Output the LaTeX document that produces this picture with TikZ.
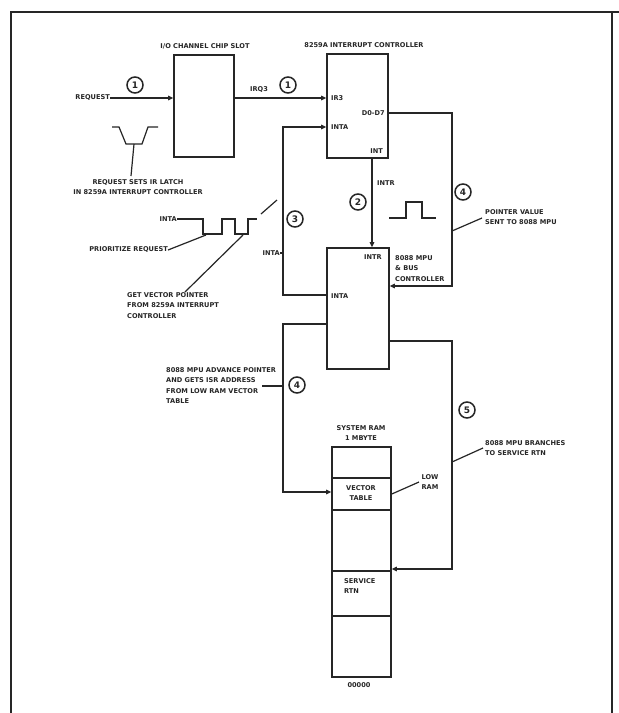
\documentclass[tikz,border=0pt]{standalone}
\usepackage{fontspec}
\setmainfont{DejaVu Sans}
\usetikzlibrary{arrows.meta}
\begin{document}
\begin{tikzpicture}[x=1pt,y=-1pt,
  ln/.style={line width=1.6pt,draw=black!85},
  thin/.style={line width=1.2pt,draw=black!85},
  arr/.style={ln,-{Triangle[length=5pt,width=4.5pt]}},
  box/.style={ln,rectangle,inner sep=0pt},
  lbl/.style={font=\fontsize{6.6}{10.5}\selectfont\bfseries,inner sep=0pt,text=black!85},
  num/.style={circle,line width=1.5pt,draw=black!85,minimum size=16pt,inner sep=0pt,font=\fontsize{9}{9}\selectfont\bfseries,text=black!85}]
\useasboundingbox (0,0) rectangle (619,713);
\fill[white] (0,0) rectangle (619,713);
% frame
\draw[ln] (11,713) -- (11,12) -- (619,12);
\draw[ln] (612,12) -- (612,713);
% boxes
\node[box,minimum width=60pt,minimum height=102pt] (io) at (204,106) {};
\node[box,minimum width=61pt,minimum height=104pt] (pic) at (357.5,106) {};
\node[box,minimum width=62pt,minimum height=121pt] (mpu) at (358,308.5) {};
\node[box,minimum width=59pt,minimum height=230pt] (ram) at (361.5,562) {};
% titles
\node[lbl] (iot) at (205,46) {I/O CHANNEL CHIP SLOT};
\node[lbl] (pict) at (364,45) {8259A INTERRUPT CONTROLLER};
% request
\node[lbl,anchor=east] (req) at (110,98) {REQUEST};
\draw[arr] (req.east) -- (io.west |- req.east);
\node[num] (c1a) at (135,85) {1};
\draw[arr] (io.east |- 0,98) -- (pic.west |- 0,98);
\node[lbl] (irq) at (259,90) {IRQ3};
\node[num] (c1b) at (288,85) {1};
% pins of 8259
\node[lbl,anchor=west] (ir3) at (331,98) {IR3};
\node[lbl,anchor=west] (inta1) at (331,127) {INTA};
\node[lbl,anchor=east] (d07) at (385,113) {D0-D7};
\node[lbl,anchor=east] (int) at (383,151) {INT};
% request trough
\draw[thin] (112,127) -- (119,127) -- (126,144) -- (142,144) -- (148,127) -- (158,127);
\coordinate (trb) at (134,144);
\node[lbl,align=center] (rsl) at (138,187) {REQUEST SETS IR LATCH\\IN 8259A INTERRUPT CONTROLLER};
\draw[thin] (trb) -- (131,176);
% INTA wave
\node[lbl,anchor=east] (intaw) at (177,219) {INTA};
\draw[thin] (intaw.east) -- (203,219) -- (203,234) -- (222,234) -- (222,219) -- (235,219) -- (235,234) -- (248,234) -- (248,219) -- (257,219);
\draw[thin] (261,214) -- (277,200);
\node[lbl,anchor=east] (prio) at (168,250) {PRIORITIZE REQUEST};
\draw[thin] (prio.east) -- (206,235);
\node[lbl,anchor=north west,align=left] (gvp) at (127,292) {GET VECTOR POINTER\\FROM 8259A INTERRUPT\\CONTROLLER};
\draw[thin] (185,292) -- (243,235);
% INT -> INTR
\draw[arr] (pic.south -| 372,0) -- (mpu.north -| 372,0);
\node[lbl,anchor=west] (intrl) at (377,183) {INTR};
\node[num] (c2) at (358,202) {2};
% pulse
\draw[thin] (389,218) -- (406,218) -- (406,202) -- (422,202) -- (422,218) -- (436,218);
% D0-D7 loop (4)
\draw[arr] (pic.east |- 0,113) -- (452,113) -- (452,286) -- (mpu.east |- 0,286);
\node[num] (c4a) at (463,192) {4};
\node[lbl,anchor=north west,align=left] (pvs) at (485,209) {POINTER VALUE\\SENT TO 8088 MPU};
\draw[thin] (452,231) -- (482,218);
% 8088 box text
\node[lbl,anchor=north west,align=left] (mput) at (395,255) {8088 MPU\\\& BUS\\CONTROLLER};
\node[lbl] (intr2) at (373,257) {INTR};
\node[lbl,anchor=west] (inta2) at (331,296) {INTA};
% INTA loop (3)
\draw[arr] (mpu.west |- 0,295) -- (283,295) -- (283,127) -- (pic.west |- 0,127);
\node[num] (c3) at (295,219) {3};
\node[lbl,anchor=east] (inta3) at (280,253) {INTA};
\draw[thin] (inta3.east) -- (283,253);
% lower loop (4)
\draw[arr] (mpu.west |- 0,324) -- (283,324) -- (283,492) -- (ram.west |- 0,492);
\node[num] (c4b) at (297,385) {4};
\node[lbl,anchor=north west,align=left] (adv) at (166,367) {8088 MPU ADVANCE POINTER\\AND GETS ISR ADDRESS\\FROM LOW RAM VECTOR\\TABLE};
\draw[thin] (262,386) -- (283,386);
% loop 5
\draw[arr] (mpu.east |- 0,341) -- (452,341) -- (452,569) -- (ram.east |- 0,569);
\node[num] (c5) at (467,410) {5};
\node[lbl,anchor=north west,align=left] (br) at (485,440) {8088 MPU BRANCHES\\TO SERVICE RTN};
\draw[thin] (452,462) -- (483,448);
% RAM
\node[lbl,align=center] (sysram) at (361,433) {SYSTEM RAM\\1 MBYTE};
\draw[ln] (ram.west |- 0,478) -- (ram.east |- 0,478);
\draw[ln] (ram.west |- 0,510) -- (ram.east |- 0,510);
\draw[ln] (ram.west |- 0,571) -- (ram.east |- 0,571);
\draw[ln] (ram.west |- 0,616) -- (ram.east |- 0,616);
\node[lbl,align=center] (vt) at (361,493) {VECTOR\\TABLE};
\node[lbl,anchor=north west,align=left] (srv) at (344,578) {SERVICE\\RTN};
\node[lbl,align=center] (lowram) at (430,482) {LOW\\RAM};
\draw[thin] (ram.east |- 0,494) -- (419,482);
\node[lbl] (addr) at (359,685) {00000};
\end{tikzpicture}
\end{document}
